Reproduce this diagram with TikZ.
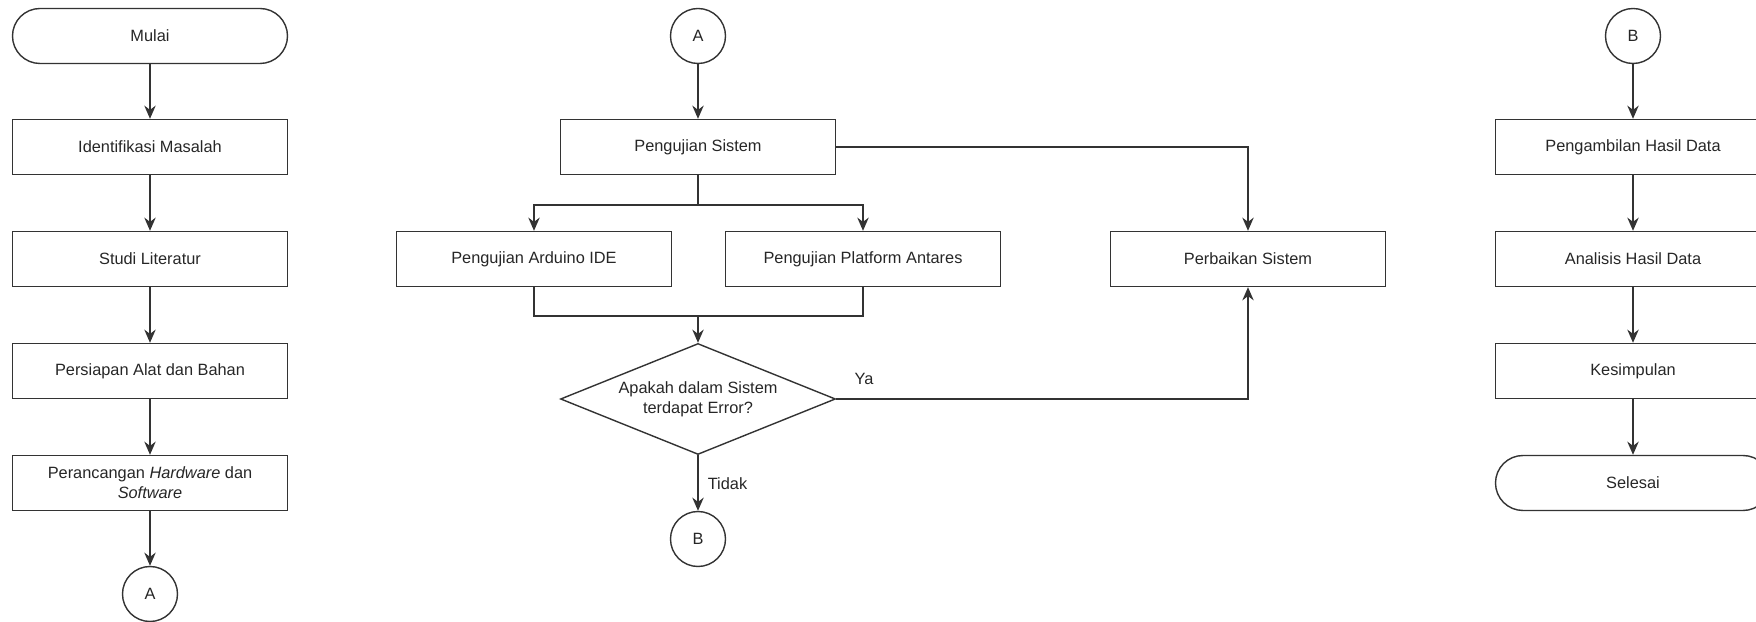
\documentclass[tikz,border=0pt]{standalone}
\usepackage{fontspec}
\setmainfont{Liberation Sans}
\usetikzlibrary{arrows.meta, shapes.geometric}

\tikzset{
  huruf/.style={font=\fontsize{9.3}{11.4}\selectfont, text=black!85},
  proses/.style={huruf, draw=black!80, line width=0.8pt, minimum width=5.5cm,
    minimum height=1.1cm, align=center},
  terminal/.style={proses, rounded corners=0.55cm},
  konektor/.style={huruf, circle, draw=black!80, line width=0.8pt,
    minimum size=1.1cm, inner sep=0pt},
  keputusan/.style={huruf, diamond, aspect=2.5, draw=black!80, line width=0.8pt,
    minimum width=5.5cm, minimum height=2.22cm, inner sep=0pt, align=center},
  garis/.style={draw=black!80, line width=0.8pt},
  panah/.style={garis, -{Stealth[length=7.5pt,width=6.5pt]}}
}

\begin{document}
\begin{tikzpicture}
\useasboundingbox (0,0) rectangle (35.12,12.44);
\clip (0,0) rectangle (35.12,12.44);
% kolom kiri
\node[terminal] (mulai) at (3,11.72) {Mulai};
\node[proses] (ident) at (3,9.5) {Identifikasi Masalah};
\node[proses] (studi) at (3,7.26) {Studi Literatur};
\node[proses] (persiapan) at (3,5.02) {Persiapan Alat dan Bahan};
\node[proses] (rancang) at (3,2.78) {Perancangan \textit{Hardware} dan\\\textit{Software}};
\node[konektor] (konA1) at (3,0.56) {A};
\foreach \a/\b in {mulai/ident, ident/studi, studi/persiapan, persiapan/rancang, rancang/konA1}
  \draw[panah] (\a) -- (\b);
% kolom tengah
\node[konektor] (konA2) at (13.96,11.72) {A};
\node[proses] (uji) at (13.96,9.5) {Pengujian Sistem};
\node[proses] (arduino) at (10.68,7.26) {Pengujian Arduino IDE};
\node[proses] (antares) at (17.26,7.26) {Pengujian Platform Antares};
\node[proses] (perbaikan) at (24.96,7.26) {Perbaikan Sistem};
\node[keputusan] (cek) at (13.96,4.46) {Apakah dalam Sistem\\terdapat Error?};
\node[konektor] (konB2) at (13.96,1.66) {B};
\coordinate (cabang) at (13.96,8.34);
\coordinate (gabung) at (13.96,6.12);
\draw[panah] (konA2) -- (uji);
\draw[garis] (uji) -- (cabang);
\draw[panah] (cabang) -| (arduino);
\draw[panah] (cabang) -| (antares);
\draw[garis] (arduino) |- (gabung);
\draw[garis] (antares) |- (gabung);
\draw[panah] (gabung) -- (cek);
\draw[panah] (uji) -| (perbaikan);
\draw[panah] (cek) -| (perbaikan);
\draw[panah] (cek) -- (konB2);
\node[huruf] (ya) at (17.28,4.86) {Ya};
\node[huruf] (tidak) at (14.55,2.76) {Tidak};
% kolom kanan
\node[konektor] (konB3) at (32.66,11.72) {B};
\node[proses] (ambil) at (32.66,9.5) {Pengambilan Hasil Data};
\node[proses] (analisis) at (32.66,7.26) {Analisis Hasil Data};
\node[proses] (simpul) at (32.66,5.02) {Kesimpulan};
\node[terminal] (selesai) at (32.66,2.78) {Selesai};
\foreach \a/\b in {konB3/ambil, ambil/analisis, analisis/simpul, simpul/selesai}
  \draw[panah] (\a) -- (\b);
\end{tikzpicture}
\end{document}
